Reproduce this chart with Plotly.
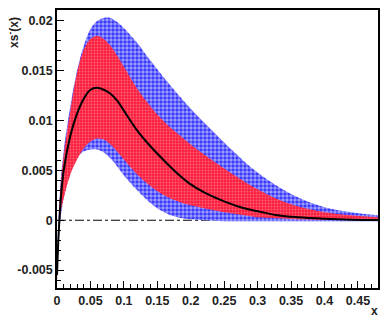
import plotly.graph_objects as go

x_vals = [0, 0.002, 0.005, 0.01, 0.02, 0.03, 0.04, 0.05, 0.06, 0.07, 0.08, 0.09, 0.10,
          0.12, 0.14, 0.16, 0.18, 0.20, 0.22, 0.25, 0.28, 0.30, 0.33, 0.36, 0.40, 0.44, 0.48]

central = [-0.0055, -0.002, 0.0015, 0.0050, 0.0085, 0.0107, 0.0122, 0.0131, 0.0133, 0.0131,
           0.0127, 0.0120, 0.0110, 0.0090, 0.0074, 0.0060, 0.0047, 0.0036, 0.0028, 0.0019,
           0.0012, 0.0009, 0.0005, 0.0003, 0.00015, 0.00006, 0.00002]

red_upper = [-0.005, -0.001, 0.003, 0.0065, 0.0110, 0.0148, 0.0171, 0.0182, 0.0185, 0.0182,
             0.0175, 0.0165, 0.0154, 0.0132, 0.0114, 0.0099, 0.0087, 0.0076, 0.0066, 0.0052,
             0.0039, 0.0031, 0.0021, 0.0014, 0.0008, 0.0005, 0.0003]

red_lower = [-0.006, -0.003, 0.0005, 0.0022, 0.0046, 0.0061, 0.0072, 0.0079, 0.0082, 0.0081,
             0.0076, 0.0069, 0.0061, 0.0046, 0.0034, 0.0025, 0.0019, 0.0015, 0.0012, 0.0008,
             0.0005, 0.0003, 0.0002, 0.0001, 0.00005, 0.00002, 0.0]

blue_upper = [-0.004, -0.0005, 0.0035, 0.0070, 0.0115, 0.0150, 0.0175, 0.0192, 0.0200, 0.0203,
              0.0203, 0.0199, 0.0193, 0.0178, 0.0160, 0.0143, 0.0127, 0.0112, 0.0098, 0.0078,
              0.0059, 0.0048, 0.0034, 0.0023, 0.0013, 0.0008, 0.0005]

blue_lower = [-0.006, -0.003, 0.0, 0.0022, 0.0048, 0.0063, 0.0069, 0.0071, 0.0071, 0.0068,
              0.0062, 0.0054, 0.0045, 0.0030, 0.0017, 0.0008, 0.0003, 0.0001, 0.0, -0.0001,
              -0.0001, -0.0001, -0.0001, -0.0001, -0.0001, -0.0001, -0.0001]

x_tickvals = [0, 0.05, 0.1, 0.15, 0.2, 0.25, 0.3, 0.35, 0.4, 0.45]
x_ticktext = ["0", "0.05", "0.1", "0.15", "0.2", "0.25", "0.3", "0.35", "0.4", "0.45"]
y_tickvals = [-0.005, 0, 0.005, 0.01, 0.015, 0.02]
y_ticktext = ["-0.005", "0", "0.005", "0.01", "0.015", "0.02"]

fig = go.Figure()

# blue band
fig.add_trace(go.Scatter(x=x_vals, y=blue_lower, mode="lines", line=dict(width=0, shape="spline"),
                         showlegend=False, hoverinfo="skip"))
fig.add_trace(go.Scatter(x=x_vals, y=blue_upper, mode="lines", line=dict(width=0, shape="spline"),
                         fill="tonexty", fillcolor="rgb(70,70,255)",
                         fillpattern=dict(shape=".", bgcolor="rgb(50,50,255)", fgcolor="white",
                                          size=4, solidity=0.6),
                         showlegend=False, hoverinfo="skip"))
# red band
fig.add_trace(go.Scatter(x=x_vals, y=red_lower, mode="lines", line=dict(width=0, shape="spline"),
                         showlegend=False, hoverinfo="skip"))
fig.add_trace(go.Scatter(x=x_vals, y=red_upper, mode="lines", line=dict(width=0, shape="spline"),
                         fill="tonexty", fillcolor="rgb(245,30,60)",
                         fillpattern=dict(shape=".", bgcolor="rgb(250,30,60)", fgcolor="rgb(255,160,180)",
                                          size=3, solidity=0.35),
                         showlegend=False, hoverinfo="skip"))
# central line
fig.add_trace(go.Scatter(x=x_vals, y=central, mode="lines",
                         line=dict(color="black", width=2, shape="spline"),
                         showlegend=False, hoverinfo="skip"))

fig.add_shape(type="line", xref="x", yref="y", x0=0, x1=0.48, y0=0, y1=0,
              line=dict(color="black", width=1, dash="dashdot"), layer="below")

tickfont = dict(family="Liberation Sans, Arial, sans-serif", size=12.5, color="#222", weight="bold")

fig.update_xaxes(range=[0, 0.48], tickvals=x_tickvals, ticktext=x_ticktext,
                 ticks="inside", ticklen=7, tickwidth=1, tickcolor="black",
                 minor=dict(dtick=0.01, ticks="inside", ticklen=4, tickcolor="black", tickwidth=1),
                 showline=True, linecolor="black", linewidth=1.5, mirror=True,
                 showgrid=False, zeroline=False, tickfont=tickfont)
fig.update_yaxes(range=[-0.0068, 0.0211], tickvals=y_tickvals, ticktext=y_ticktext,
                 ticks="inside", ticklen=7, tickwidth=1, tickcolor="black",
                 minor=dict(dtick=0.001, ticks="inside", ticklen=4, tickcolor="black", tickwidth=1),
                 showline=True, linecolor="black", linewidth=1.5, mirror=True,
                 showgrid=False, zeroline=False, tickfont=tickfont)

fig.add_annotation(text="xs<sup>-</sup>(x)", xref="paper", yref="paper", x=-0.135, y=0.92,
                   textangle=-90, showarrow=False, xanchor="center", yanchor="middle",
                   font=dict(family="Liberation Sans, Arial, sans-serif", size=12, color="#222", weight="bold"))
fig.add_annotation(text="x", xref="paper", yref="paper", x=0.988, y=-0.082,
                   showarrow=False, xanchor="center", yanchor="middle",
                   font=dict(family="Liberation Sans, Arial, sans-serif", size=12, color="#222", weight="bold"))

fig.update_layout(width=388, height=324, margin=dict(l=57, r=8, t=9, b=36),
                  plot_bgcolor="white", paper_bgcolor="white")

fig.write_html("out.html", config={"displayModeBar": False},
               post_script="document.body.style.margin='0';document.body.style.padding='0';")
